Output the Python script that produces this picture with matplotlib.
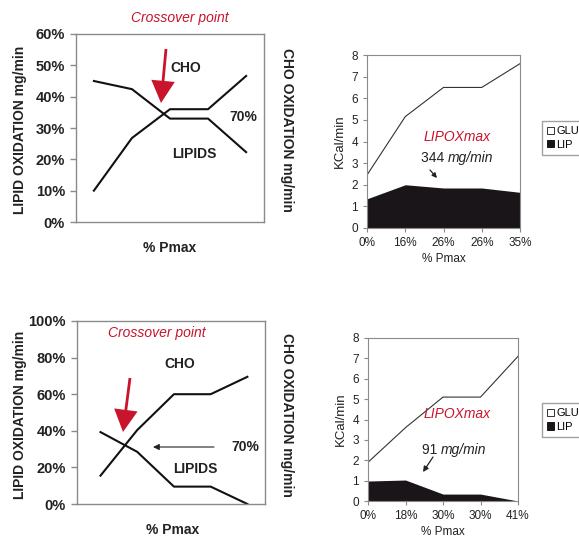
import matplotlib
matplotlib.use("Agg")
import matplotlib.pyplot as plt
from matplotlib.patches import FancyArrowPatch, Patch

plt.rcParams['font.family'] = ['Liberation Sans', 'DejaVu Sans']

W, H = 579, 541

# ---- Data ----
# top row
top_cho = [10, 26.8, 36, 36, 46.6]
top_lipids = [45, 42.4, 33, 33, 22.3]
top_ticks = ["0%", "16%", "26%", "26%", "35%"]
top_glu = [2.45, 5.15, 6.5, 6.5, 7.6]
top_lip = [1.35, 2.0, 1.85, 1.85, 1.65]

# bottom row
bot_cho = [15.5, 40.4, 60, 60, 69.5]
bot_lipids = [39.3, 28.5, 9.5, 9.5, 0]
bot_ticks = ["0%", "18%", "30%", "30%", "41%"]
bot_glu = [1.9, 3.6, 5.1, 5.1, 7.1]
bot_lip = [0.98, 1.03, 0.34, 0.34, 0.0]

RED = "#c8142c"
SPINE = "#8a8a8a"
INK = "#222222"

fig = plt.figure(figsize=(W / 100, H / 100), dpi=100)


def box(l, r, t, b):
    return [l / W, 1 - b / H, (r - l) / W, (b - t) / H]


def fpx(x, y):
    return (x / W, 1 - y / H)


def crossover_panel(rect, cho, lipids, ymax, ystep, xlim):
    ax = fig.add_axes(rect)
    xs = range(len(cho))
    ax.plot(xs, cho, color="#111111", lw=1.5)
    ax.plot(xs, lipids, color="#111111", lw=1.5)
    ax.set_xlim(*xlim)
    ax.set_ylim(0, ymax)
    ticks = list(range(0, ymax + 1, ystep))
    ax.set_yticks(ticks)
    ax.set_yticklabels([f"{t}%" for t in ticks], fontsize=10.5,
                       fontweight="bold", color=INK)
    ax.set_xticks([])
    ax.tick_params(axis="y", length=4.5, width=1, color=SPINE, pad=3.5)
    for s in ax.spines.values():
        s.set_color(SPINE)
        s.set_linewidth(1)
    return ax


def energy_panel(rect, glu, lip, ticks):
    ax = fig.add_axes(rect)
    xs = list(range(len(glu)))
    ax.fill_between(xs, 0, lip, color="#1a1518", lw=0)
    ax.plot(xs, glu, color="#333333", lw=0.8)
    ax.set_xlim(0, len(glu) - 1)
    ax.set_ylim(0, 8)
    ax.set_yticks(range(0, 9))
    ax.set_xticks(xs)
    ax.set_xticklabels(ticks)
    ax.tick_params(labelsize=8.5, length=3, width=0.8, color=SPINE, colors=INK)
    ax.set_ylabel("KCal/min", fontsize=9.5, labelpad=4, color=INK)
    ax.set_xlabel("% Pmax", fontsize=8.5, labelpad=3, color=INK)
    for s in ax.spines.values():
        s.set_color(SPINE)
        s.set_linewidth(0.8)
    return ax


def red_arrow(tail, tip):
    fig.patches.append(FancyArrowPatch(
        posA=fpx(*tail), posB=fpx(*tip), transform=fig.transFigure,
        arrowstyle="simple,head_width=17,head_length=16,tail_width=2",
        mutation_scale=1, color=RED, lw=0, shrinkA=0, shrinkB=0))


def small_arrow(tail, tip, lw=0.9, scale=9):
    fig.patches.append(FancyArrowPatch(
        posA=fpx(*tail), posB=fpx(*tip), transform=fig.transFigure,
        arrowstyle="-|>", mutation_scale=scale, color=INK, lw=lw,
        shrinkA=0, shrinkB=0))


def side_labels(yc):
    fig.text(*fpx(20, yc), "LIPID OXIDATION mg/min", rotation=90, ha="center",
             va="center", fontsize=10, fontweight="bold", color=INK)
    fig.text(*fpx(287, yc), "CHO OXIDATION mg/min", rotation=-90, ha="center",
             va="center", fontsize=10, fontweight="bold", color=INK)


def bold_note(x, y, s):
    fig.text(*fpx(x, y), s, fontsize=10, fontweight="bold",
             ha="center", va="center", color=INK)


def rate_note(x_split, y, num):
    fig.text(*fpx(x_split, y), f"{num} ", fontsize=10, ha="right",
             va="center", color=INK)
    fig.text(*fpx(x_split, y), "mg/min", fontsize=10, style="italic",
             ha="left", va="center", color=INK)


def legend(x, y):
    handles = [Patch(facecolor="white", edgecolor="#333333", lw=0.7),
               Patch(facecolor="#1a1518", edgecolor="#1a1518", lw=0.7)]
    fig.legend(handles, ["GLU", "LIP"], loc="upper left",
               bbox_to_anchor=fpx(x, y), bbox_transform=fig.transFigure,
               fontsize=8, frameon=True, fancybox=False, edgecolor=SPINE,
               handlelength=0.6, handleheight=0.6, handletextpad=0.25,
               labelspacing=0.35, borderpad=0.45, borderaxespad=0)


# ---- Top row ----
crossover_panel(box(76, 264, 34, 222), top_cho, top_lipids, 60, 10, (-0.47, 4.47))
side_labels(130)
fig.text(*fpx(180, 18), "Crossover point", color=RED, style="italic",
         fontsize=10, ha="center", va="center")
bold_note(170, 248, "% Pmax")
bold_note(186, 68, "CHO")
bold_note(243, 117, "70%")
bold_note(194, 154, "LIPIDS")
red_arrow((166, 49), (161, 103))

energy_panel(box(367, 520, 55, 228), top_glu, top_lip, top_ticks)
fig.text(*fpx(457, 137), "LIPOXmax", color=RED, style="italic",
         fontsize=10, ha="center", va="center")
rate_note(448, 158, 344)
small_arrow((430, 170), (437, 178), scale=7)
legend(542, 121)

# ---- Bottom row ----
crossover_panel(box(77, 265, 321, 504), bot_cho, bot_lipids, 100, 20, (-0.64, 4.48))
side_labels(415)
fig.text(*fpx(157, 333), "Crossover point", color=RED, style="italic",
         fontsize=10, ha="center", va="center")
bold_note(173, 530, "% Pmax")
bold_note(180, 364, "CHO")
bold_note(245, 447, "70%")
bold_note(195, 469, "LIPIDS")
red_arrow((130, 378), (123, 432))
small_arrow((214, 447), (153, 447), lw=0.8, scale=9)

energy_panel(box(368, 518, 338, 501), bot_glu, bot_lip, bot_ticks)
fig.text(*fpx(457, 414), "LIPOXmax", color=RED, style="italic",
         fontsize=10, ha="center", va="center")
rate_note(441, 450, 91)
small_arrow((433, 457), (423, 472), scale=8)
legend(542, 403)

fig.savefig("out.png", dpi=100)
